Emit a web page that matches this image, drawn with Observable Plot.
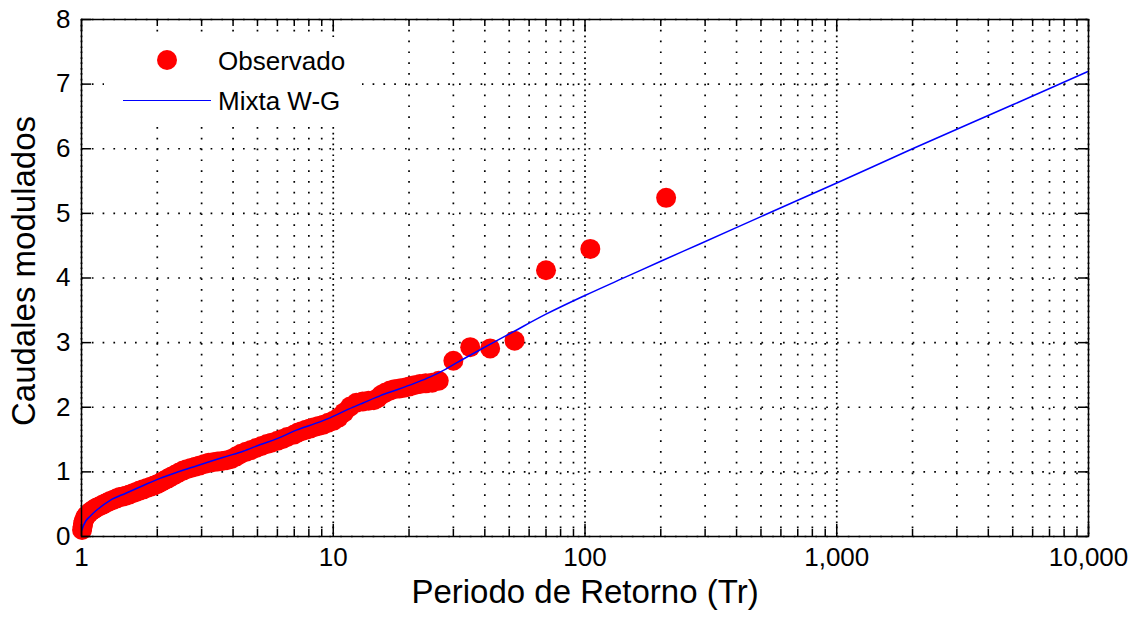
<!DOCTYPE html>
<html>
<head>
<meta charset="utf-8">
<script src="https://cdn.jsdelivr.net/npm/d3@7"></script>
<script src="https://cdn.jsdelivr.net/npm/@observablehq/plot@0.6"></script>
<style>
  body { margin: 0; background: #fff; }
  #wrap { position: relative; width: 1133px; height: 620px; font-family: "Liberation Sans", Arial, sans-serif; }
  #legend { position: absolute; left: 104px; top: 37px; width: 258px; height: 90px; background: #fff; }
  #legend .dot { position: absolute; width: 20px; height: 20px; border-radius: 50%; background: #ff0000; }
  #legend .ln { position: absolute; height: 1.5px; background: #0000ff; }
  #legend .txt { position: absolute; font-size: 26px; line-height: 26px; color: #000; white-space: nowrap; }
</style>
</head>
<body>
<div id="wrap"></div>
<script>
// Observed (Weibull plotting position) – return period and modulated discharge
const obsTr = [1.005, 1.01, 1.015, 1.02, 1.03, 1.04, 1.05, 1.07, 1.09, 1.11, 1.13, 1.15, 1.18, 1.21, 1.24, 1.27, 1.30, 1.34, 1.38, 1.42, 1.46, 1.50, 1.55, 1.60, 1.65, 1.70, 1.76, 1.82, 1.88, 1.94, 2.00, 2.07, 2.14, 2.21, 2.28, 2.36, 2.44, 2.53, 2.62, 2.72, 2.83, 2.95, 3.08, 3.20, 3.33, 3.47, 3.62, 3.78, 3.94, 4.12, 4.30, 4.50, 4.72, 4.94, 5.19, 5.45, 5.68, 6.00, 6.30, 6.56, 7.00, 7.24, 7.50, 7.78, 8.08, 8.40, 8.75, 9.13, 9.55, 10.0, 10.5, 11.05, 11.67, 12.35, 13.1, 13.8, 14.5, 15.0, 15.5, 16.15, 16.8, 17.5, 18.3, 19.1, 20.0, 21.0, 22.1, 23.3, 24.7, 26.25, 30, 35, 42, 52.5, 70, 105, 210];
const obsQ  = [0.10, 0.15, 0.20, 0.24, 0.28, 0.31, 0.33, 0.36, 0.39, 0.41, 0.43, 0.45, 0.47, 0.49, 0.51, 0.53, 0.55, 0.57, 0.59, 0.61, 0.62, 0.63, 0.65, 0.67, 0.69, 0.71, 0.73, 0.75, 0.77, 0.79, 0.81, 0.84, 0.87, 0.90, 0.93, 0.96, 0.99, 1.02, 1.04, 1.06, 1.08, 1.10, 1.12, 1.14, 1.15, 1.16, 1.17, 1.18, 1.20, 1.24, 1.28, 1.31, 1.34, 1.37, 1.40, 1.43, 1.45, 1.48, 1.51, 1.54, 1.58, 1.61, 1.63, 1.65, 1.67, 1.69, 1.71, 1.73, 1.76, 1.79, 1.84, 1.92, 2.01, 2.07, 2.09, 2.10, 2.11, 2.14, 2.19, 2.23, 2.26, 2.28, 2.29, 2.30, 2.32, 2.34, 2.36, 2.37, 2.38, 2.41, 2.72, 2.93, 2.91, 3.03, 4.12, 4.45, 5.24];

// Fitted mixed Weibull-Gumbel curve
const fitTr = [1.004, 1.016, 1.04, 1.08, 1.15, 1.3, 1.5, 1.76, 2.05, 2.38, 2.78, 3.24, 3.77, 4.39, 5.11, 5.95, 7.18, 8.5, 9.76, 11.5, 13.2, 15.4, 17.9, 21, 24.3, 28, 31, 40, 52, 70, 100, 150, 200, 287, 500, 1000, 2000, 5000, 10000];
const fitQ  = [0.10, 0.16, 0.24, 0.31, 0.41, 0.56, 0.67, 0.79, 0.90, 0.99, 1.075, 1.16, 1.24, 1.32, 1.42, 1.51, 1.65, 1.75, 1.84, 1.97, 2.07, 2.18, 2.27, 2.37, 2.47, 2.59, 2.69, 2.93, 3.17, 3.44, 3.73, 4.04, 4.26, 4.53, 4.95, 5.47, 6.00, 6.68, 7.20];

const xMajorTicks = [1, 10, 100, 1000, 10000];
const xMinorTicks = [2, 3, 4, 5, 6, 7, 8, 9, 20, 30, 40, 50, 60, 70, 80, 90, 200, 300, 400, 500, 600, 700, 800, 900, 2000, 3000, 4000, 5000, 6000, 7000, 8000, 9000];
const yTicks = [0, 1, 2, 3, 4, 5, 6, 7, 8];
const legendLabels = ["Observado", "Mixta W-G"];
const xLabel = "Periodo de Retorno (Tr)";
const yLabel = "Caudales modulados";

const W = 1133, H = 620, mL = 81, mR = 45, mT = 19, mB = 84;
const pw = W - mL - mR, ph = H - mT - mB;
const FONT = "'Liberation Sans', Arial, Helvetica, sans-serif";

const obs = obsTr.map((t, i) => ({Tr: t, Q: obsQ[i]}));
const fit = fitTr.map((t, i) => ({Tr: t, Q: fitQ[i]}));

const grid = {stroke: "#000", strokeWidth: 1.7, strokeDasharray: "1.7,9.1"};
const tk = {stroke: "#000", strokeWidth: 1.5};

const chart = Plot.plot({
  width: W, height: H,
  marginLeft: mL, marginRight: mR, marginTop: mT, marginBottom: mB,
  style: {fontFamily: FONT, fontSize: "26px", background: "#fff", color: "#000", overflow: "visible"},
  x: {type: "log", domain: [1, 10000]},
  y: {domain: [0, 8]},
  marks: [
    Plot.ruleX([...xMinorTicks, ...xMajorTicks], grid),
    Plot.ruleX(xMajorTicks, {...grid, strokeDashoffset: 5}),
    Plot.ruleY(yTicks, grid),
    Plot.dot(obs, {x: "Tr", y: "Q", r: 10, fill: "#ff0000", stroke: "none"}),
    Plot.line(fit, {x: "Tr", y: "Q", stroke: "#0000ff", strokeWidth: 1.5, curve: "monotone-x"}),
    Plot.frame({stroke: "#000", strokeWidth: 1.5}),
    Plot.ruleX(xMajorTicks, {...tk, insetTop: ph - 12}),
    Plot.ruleX(xMajorTicks, {...tk, insetBottom: ph - 12}),
    Plot.ruleX(xMinorTicks, {...tk, insetTop: ph - 7}),
    Plot.ruleX(xMinorTicks, {...tk, insetBottom: ph - 7}),
    Plot.ruleY(yTicks, {...tk, insetRight: pw - 10}),
    Plot.ruleY(yTicks, {...tk, insetLeft: pw - 10}),
    Plot.axisX({ticks: xMajorTicks, tickFormat: d3.format(","), tickSize: 0, tickPadding: 11, label: null, fontSize: 26}),
    Plot.axisY({ticks: yTicks, tickFormat: d3.format("d"), tickSize: 0, tickPadding: 11, label: null, fontSize: 26}),
    Plot.text([xLabel], {frameAnchor: "bottom", textAnchor: "middle", dy: 66, fontSize: 33, fill: "#000"}),
    Plot.text([yLabel], {frameAnchor: "left", textAnchor: "middle", rotate: -90, dx: -57, dy: -7, fontSize: 33, fill: "#000"})
  ]
});

const wrap = document.getElementById("wrap");
wrap.appendChild(chart);

// Legend (MATLAB-style, white box without border)
const leg = document.createElement("div");
leg.id = "legend";
const dot = document.createElement("div");
dot.className = "dot";
dot.style.left = (157 - 104) + "px"; dot.style.top = (50 - 37) + "px";
leg.appendChild(dot);
const ln = document.createElement("div");
ln.className = "ln";
ln.style.left = (123 - 104) + "px"; ln.style.width = "88px"; ln.style.top = (99.5 - 37) + "px";
leg.appendChild(ln);
legendLabels.forEach((lab, i) => {
  const t = document.createElement("div");
  t.className = "txt";
  t.textContent = lab;
  t.style.left = (218 - 104) + "px";
  t.style.top = ((i === 0 ? 48 : 88) - 37) + "px";
  leg.appendChild(t);
});
wrap.appendChild(leg);
</script>
</body>
</html>
